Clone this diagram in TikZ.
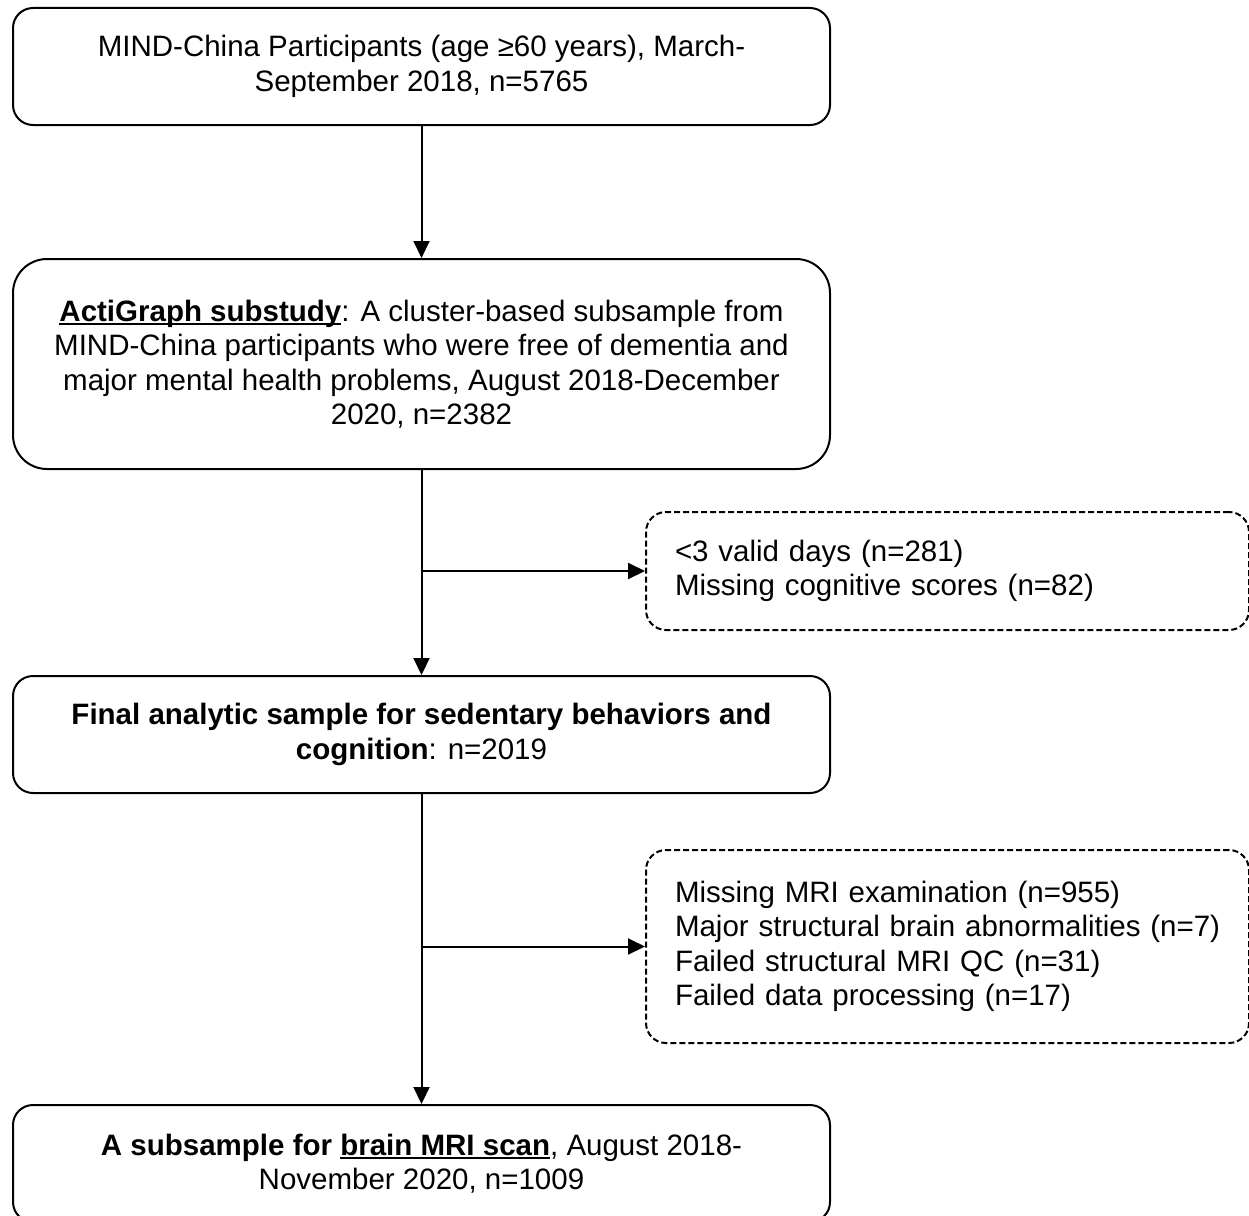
\documentclass[tikz,border=0pt]{standalone}
\usepackage{fontspec}
\setmainfont{Liberation Sans}
\usetikzlibrary{arrows.meta}
\newcommand\ulbox[1]{\leavevmode\setbox0=\hbox{#1}\rlap{\rule[-4pt]{\wd0}{2.2pt}}\box0}
\begin{document}
\begin{tikzpicture}[x=1pt,y=-1pt,
  txt/.style={font=\fontsize{29.5pt}{34.5pt}\selectfont},
  mainbox/.style={txt, draw, line width=2pt, rounded corners=20pt, minimum width=817pt, inner sep=0pt, align=center},
  exclbox/.style={txt, draw, line width=2pt, dash pattern=on 6pt off 3pt, rounded corners=20pt, anchor=west, inner xsep=29pt, inner ysep=0pt, text width=545pt, align=left},
  flow/.style={line width=2pt, -{Triangle[length=17pt,width=16pt]}}]
\useasboundingbox (0,0) rectangle (1249,1215);
\clip (0,0) rectangle (1249,1215);
\node[mainbox, minimum height=117pt] (b1) at (421.5,66.5)
  {MIND-China Participants (age ≥60 years), March-\\September 2018, n=5765};
\node[mainbox, minimum height=210pt, rounded corners=34pt] (b2) at (421.5,364)
  {\ulbox{\textbf{ActiGraph substudy}}: A cluster-based subsample from\\
   MIND-China participants who were free of dementia and\\
   major mental health problems, August 2018-December\\
   2020, n=2382};
\node[mainbox, minimum height=117pt] (b3) at (421.5,734.5)
  {\textbf{Final analytic sample for sedentary behaviors and}\\
   \textbf{cognition}: n=2019};
\node[mainbox, minimum height=117pt] (b4) at (421.5,1163.5)
  {\textbf{A subsample for \ulbox{brain MRI scan}}, August 2018-\\
   November 2020, n=1009};
\node[exclbox, minimum height=118pt] (d1) at (645,571)
  {\mbox{<3 valid days (n=281)}\\\mbox{Missing cognitive scores (n=82)}};
\node[exclbox, minimum height=193pt] (d2) at (645,946.5)
  {\mbox{Missing MRI examination (n=955)}\\
   \mbox{Major structural brain abnormalities (n=7)}\\
   \mbox{Failed structural MRI QC (n=31)}\\
   \mbox{Failed data processing (n=17)}};
\coordinate (j1) at (421.5,571);
\coordinate (j2) at (421.5,946.5);
\draw[flow] (b1.south) -- (b2.north);
\draw[flow] (b2.south) -- (b3.north);
\draw[flow] (b3.south) -- (b4.north);
\draw[flow] (j1) -- (d1.west);
\draw[flow] (j2) -- (d2.west);
\end{tikzpicture}
\end{document}
